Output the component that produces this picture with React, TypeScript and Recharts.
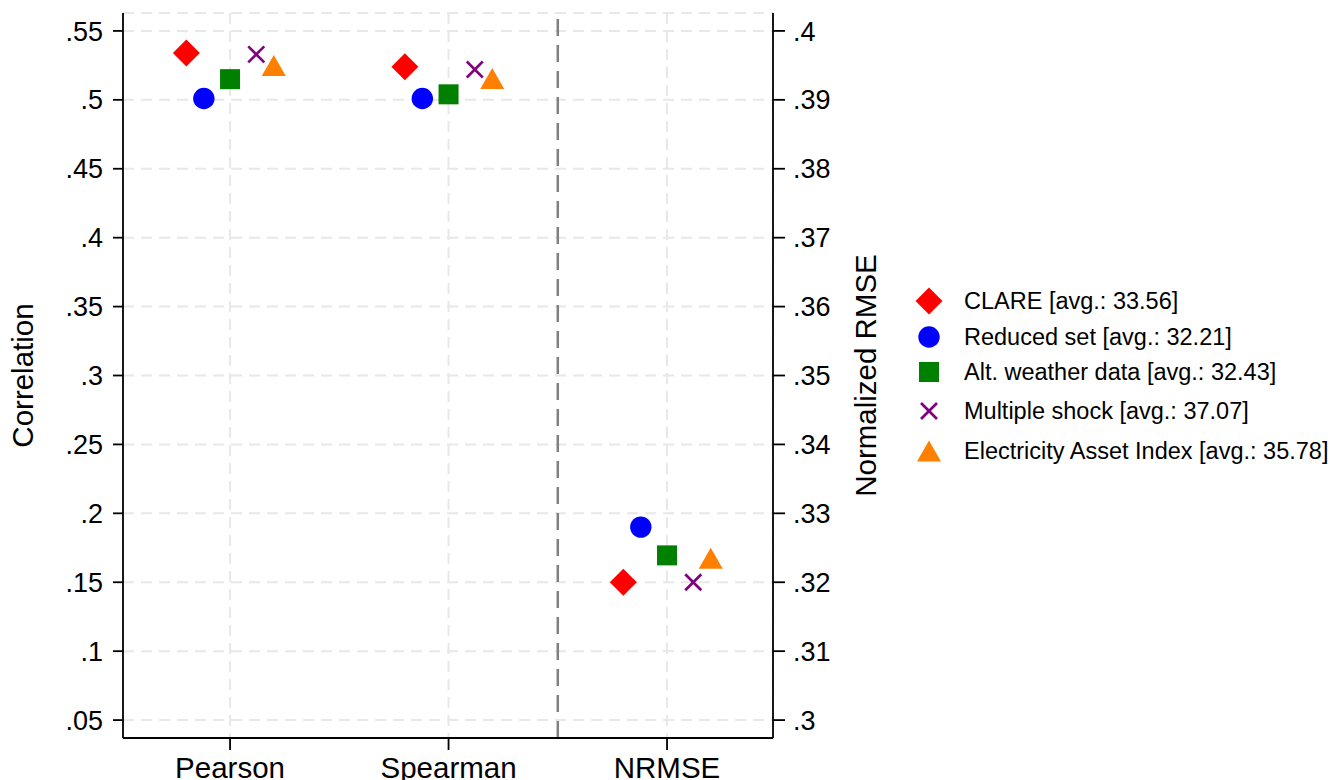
import React from 'react';
import {
  ScatterChart,
  Scatter,
  XAxis,
  YAxis,
  CartesianGrid,
  ReferenceLine,
  Legend,
} from 'recharts';

// x categories
const categories = ['Pearson', 'Spearman', 'NRMSE'];

// values per series: [Pearson, Spearman, NRMSE]
const clareValues = [0.534, 0.524, 0.32];
const reducedSetValues = [0.501, 0.501, 0.328];
const altWeatherValues = [0.515, 0.504, 0.3239];
const multipleShockValues = [0.533, 0.522, 0.32];
const electricityValues = [0.525, 0.5155, 0.3235];

const seriesLabels = [
  'CLARE [avg.: 33.56]',
  'Reduced set [avg.: 32.21]',
  'Alt. weather data [avg.: 32.43]',
  'Multiple shock [avg.: 37.07]',
  'Electricity Asset Index [avg.: 35.78]',
];

const corrTicks = [0.05, 0.1, 0.15, 0.2, 0.25, 0.3, 0.35, 0.4, 0.45, 0.5, 0.55];
const rmseTicks = [0.3, 0.31, 0.32, 0.33, 0.34, 0.35, 0.36, 0.37, 0.38, 0.39, 0.4];

const FONT = '"Liberation Sans", Arial, sans-serif';

type MarkerKind = 'diamond' | 'circle' | 'square' | 'x' | 'triangle';

// style + dodge for each series
const seriesStyle: { color: string; marker: MarkerKind; dodge: number }[] = [
  { color: '#ff0000', marker: 'diamond', dodge: -0.2 },
  { color: '#0000ff', marker: 'circle', dodge: -0.12 },
  { color: '#008000', marker: 'square', dodge: 0 },
  { color: '#800080', marker: 'x', dodge: 0.12 },
  { color: '#ff8000', marker: 'triangle', dodge: 0.2 },
];

const allValues = [clareValues, reducedSetValues, altWeatherValues, multipleShockValues, electricityValues];

// legend row offsets (px from legend top)
const legendRows = [19, 55, 90, 129, 169];

// left axis domain; right axis is a linear rescale of it
const corrDomain = [0.037, 0.563];
const rmseDomain = corrDomain.map((v) => 0.29 + 0.2 * v);

const fmt = (v: number) => String(+v.toFixed(2)).replace(/^0/, '');

const Marker = ({ kind, cx, cy, color }: { kind: MarkerKind; cx: number; cy: number; color: string }) => {
  switch (kind) {
    case 'diamond':
      return <polygon points={`${cx},${cy - 13.5} ${cx + 13.5},${cy} ${cx},${cy + 13.5} ${cx - 13.5},${cy}`} fill={color} />;
    case 'circle':
      return <circle cx={cx} cy={cy} r={10.7} fill={color} />;
    case 'square':
      return <rect x={cx - 10} y={cy - 10} width={20} height={20} fill={color} />;
    case 'x':
      return (
        <g stroke={color} strokeWidth={2.6}>
          <line x1={cx - 8} y1={cy - 8} x2={cx + 8} y2={cy + 8} />
          <line x1={cx - 8} y1={cy + 8} x2={cx + 8} y2={cy - 8} />
        </g>
      );
    case 'triangle':
      return <polygon points={`${cx},${cy - 10.5} ${cx + 12},${cy + 10.5} ${cx - 12},${cy + 10.5}`} fill={color} />;
  }
  return null;
};

const AxisTitle = ({ viewBox, value, dx }: any) => {
  const x = viewBox.x + dx;
  const y = viewBox.y + viewBox.height / 2;
  return (
    <text
      x={x}
      y={y}
      transform={`rotate(-90 ${x} ${y})`}
      textAnchor="middle"
      dominantBaseline="central"
      fontSize={29.5}
      fontFamily={FONT}
      fill="#000"
    >
      {value}
    </text>
  );
};

const LegendBox = () => (
  <svg width={420} height={200}>
    {seriesLabels.map((label, i) => {
      const y = legendRows[i];
      const s = seriesStyle[i];
      return (
        <g key={label}>
          <Marker kind={s.marker} cx={17} cy={y} color={s.color} />
          <text x={52} y={y} dominantBaseline="central" fontSize={23.5} fontFamily={FONT} fill="#000">
            {label}
          </text>
        </g>
      );
    })}
  </svg>
);

export default function App() {
  // correlation points (Pearson, Spearman) on the left axis, NRMSE on the right
  const corrData = allValues.map((vals, s) =>
    vals.slice(0, 2).map((v, i) => ({ x: i + 1 + seriesStyle[s].dodge, y: v }))
  );
  const rmseData = allValues.map((vals, s) => [{ x: 3 + seriesStyle[s].dodge, y: vals[2] }]);

  const axisLine = { stroke: '#000', strokeWidth: 1.8 };
  const tickStyle = { fill: '#000', fontSize: 27, fontFamily: FONT };

  return (
    <div style={{ position: 'absolute', left: 0, top: 0, background: '#fff' }}>
      <ScatterChart width={1334} height={780} margin={{ top: 13, right: 451, bottom: 0, left: 0 }}>
        <CartesianGrid
          yAxisId="corr"
          stroke="#e8e8e8"
          strokeWidth={2}
          strokeDasharray="11 7"
        />
        <XAxis
          type="number"
          dataKey="x"
          domain={[0.51, 3.485]}
          ticks={[1, 2, 3]}
          allowDataOverflow
          tickFormatter={(v: number) => categories[v - 1]}
          height={42}
          axisLine={axisLine}
          tickLine={axisLine}
          tickSize={12}
          tickMargin={7}
          tick={{ ...tickStyle, fontSize: 29.5 }}
        />
        <YAxis
          yAxisId="corr"
          type="number"
          dataKey="y"
          domain={corrDomain}
          ticks={corrTicks}
          allowDataOverflow
          tickFormatter={fmt}
          width={123}
          axisLine={axisLine}
          tickLine={axisLine}
          tickSize={10}
          tickMargin={10}
          tick={tickStyle}
          label={{ value: 'Correlation', content: (p: any) => <AxisTitle {...p} value="Correlation" dx={22} /> }}
        />
        <YAxis
          yAxisId="rmse"
          orientation="right"
          type="number"
          dataKey="y"
          domain={rmseDomain}
          ticks={rmseTicks}
          allowDataOverflow
          tickFormatter={fmt}
          width={110}
          axisLine={axisLine}
          tickLine={axisLine}
          tickSize={12}
          tickMargin={8}
          tick={tickStyle}
          label={{ value: 'Normalized RMSE', content: (p: any) => <AxisTitle {...p} value="Normalized RMSE" dx={92} /> }}
        />
        <ReferenceLine yAxisId="corr" x={2.5} stroke="#808080" strokeWidth={2.5} strokeDasharray="17 9" />
        {corrData.map((d, s) => (
          <Scatter
            key={`c${s}`}
            name={seriesLabels[s]}
            yAxisId="corr"
            data={d}
            isAnimationActive={false}
            shape={(p: any) => <Marker kind={seriesStyle[s].marker} cx={p.cx} cy={p.cy} color={seriesStyle[s].color} />}
          />
        ))}
        {rmseData.map((d, s) => (
          <Scatter
            key={`r${s}`}
            name={seriesLabels[s]}
            yAxisId="rmse"
            data={d}
            isAnimationActive={false}
            shape={(p: any) => <Marker kind={seriesStyle[s].marker} cx={p.cx} cy={p.cy} color={seriesStyle[s].color} />}
          />
        ))}
        <Legend
          layout="vertical"
          align="center"
          verticalAlign="middle"
          wrapperStyle={{ left: 912, top: 282, width: 420 }}
          content={() => <LegendBox />}
        />
      </ScatterChart>
    </div>
  );
}
